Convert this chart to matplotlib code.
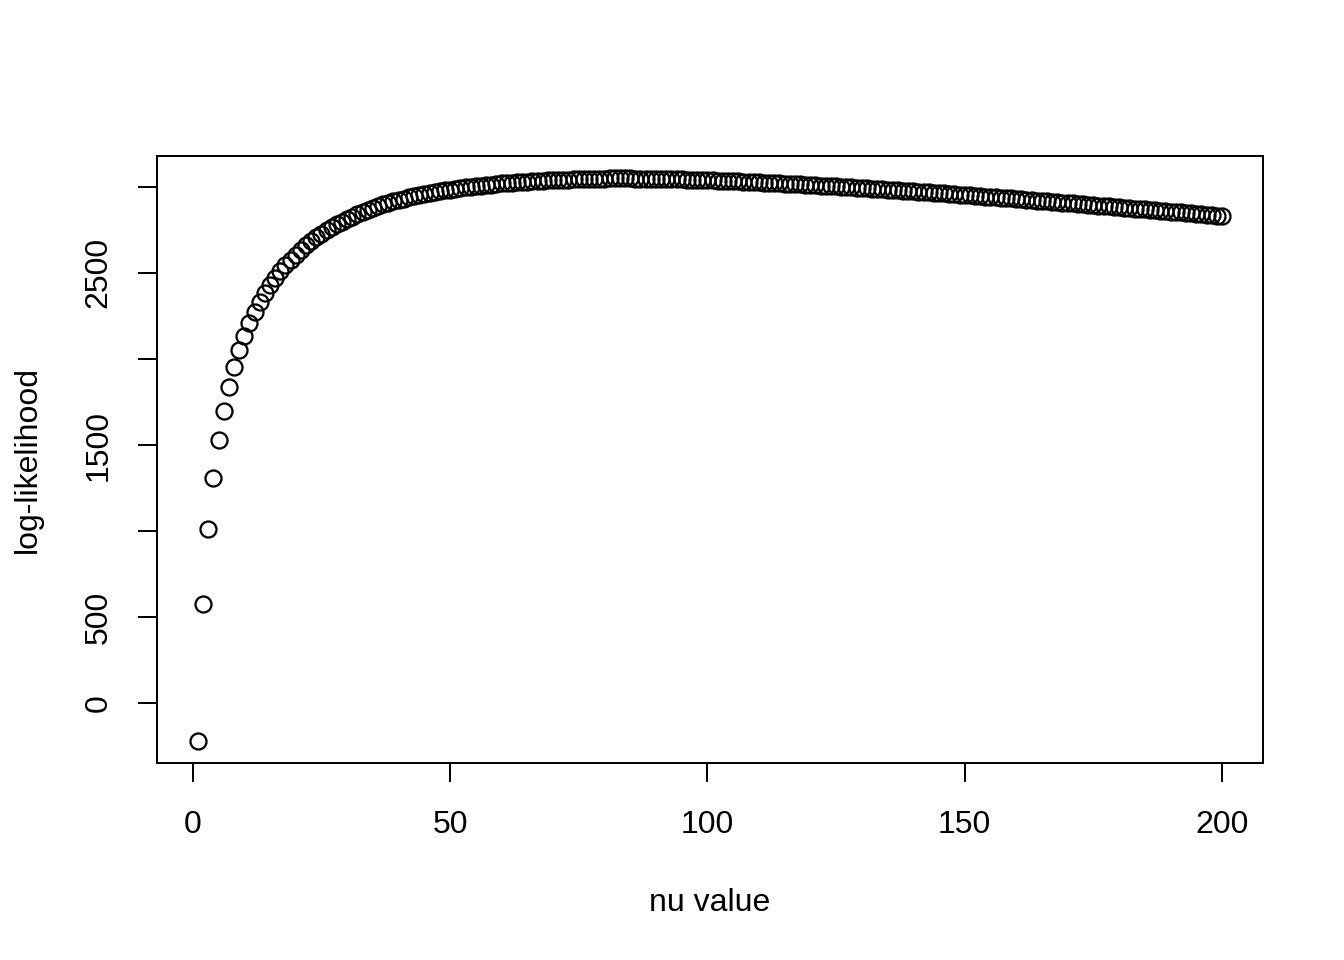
import numpy as np
import matplotlib
matplotlib.use("Agg")
import matplotlib.pyplot as plt

# log-likelihood, nu = 1..200
nu = list(range(1, 201))
loglik = [
    -215, 576, 1012, 1308, 1529, 1698, 1837, 1953, 2052, 2134,
    2209, 2273, 2331, 2384, 2430, 2471, 2512, 2547, 2576, 2605,
    2633, 2659, 2683, 2706, 2727, 2746, 2764, 2781, 2797, 2812,
    2826, 2839, 2852, 2864, 2875, 2886, 2896, 2905, 2914, 2922,
    2930, 2937, 2944, 2951, 2957, 2963, 2968, 2973, 2978, 2983,
    2987, 2991, 2995, 2999, 3003, 3006, 3009, 3012, 3015, 3018,
    3021, 3023, 3025, 3027, 3029, 3031, 3033, 3035, 3036, 3038,
    3039, 3040, 3041, 3042, 3043, 3044, 3045, 3045, 3046, 3046,
    3047, 3047, 3047, 3047, 3047, 3046, 3046, 3046, 3045, 3045,
    3044, 3044, 3043, 3042, 3042, 3041, 3040, 3039, 3038, 3037,
    3036, 3035, 3034, 3032, 3031, 3030, 3029, 3027, 3026, 3025,
    3023, 3022, 3020, 3019, 3017, 3016, 3014, 3013, 3011, 3009,
    3008, 3006, 3004, 3003, 3001, 2999, 2997, 2996, 2994, 2992,
    2990, 2988, 2986, 2984, 2982, 2980, 2978, 2976, 2974, 2972,
    2970, 2968, 2966, 2964, 2962, 2960, 2958, 2955, 2953, 2951,
    2949, 2947, 2944, 2942, 2940, 2938, 2935, 2933, 2931, 2928,
    2926, 2924, 2921, 2919, 2917, 2914, 2912, 2909, 2907, 2905,
    2902, 2900, 2897, 2895, 2892, 2890, 2887, 2885, 2882, 2880,
    2877, 2875, 2872, 2870, 2867, 2865, 2862, 2860, 2857, 2855,
    2852, 2850, 2847, 2845, 2842, 2840, 2837, 2835, 2832, 2830,
]

xticks = [0, 50, 100, 150, 200]
yticks = [0, 500, 1000, 1500, 2000, 2500, 3000]
ytick_labels = ["0", "500", "", "1500", "", "2500", ""]

plt.rcParams["font.family"] = ["Liberation Sans", "DejaVu Sans"]
plt.rcParams["font.size"] = 12

fig = plt.figure(figsize=(7, 5), dpi=192)
ax = fig.add_axes([0.1168, 0.2052, 0.8229, 0.6323])

ax.plot(nu, loglik, linestyle="none", marker="o", markersize=6.0,
        markerfacecolor="none", markeredgecolor="black", markeredgewidth=0.85)

# R style 4% padding
xr = max(nu) - min(nu)
yr = max(loglik) - min(loglik)
ax.set_xlim(min(nu) - 0.04 * xr, max(nu) + 0.04 * xr)
ax.set_ylim(min(loglik) - 0.04 * yr, max(loglik) + 0.04 * yr)

ax.set_xticks(xticks)
ax.set_yticks(yticks)
ax.set_yticklabels(ytick_labels, rotation=90, va="center")
ax.tick_params(direction="out", length=7.2, width=0.75, labelsize=12)
ax.tick_params(axis="x", pad=10.5)
ax.tick_params(axis="y", pad=9)

for s in ax.spines.values():
    s.set_linewidth(0.75)
    s.set_color("black")

ax.set_xlabel("nu value", labelpad=18)
ax.set_ylabel("log-likelihood", labelpad=15.5)

fig.savefig("out.png", dpi=192)
